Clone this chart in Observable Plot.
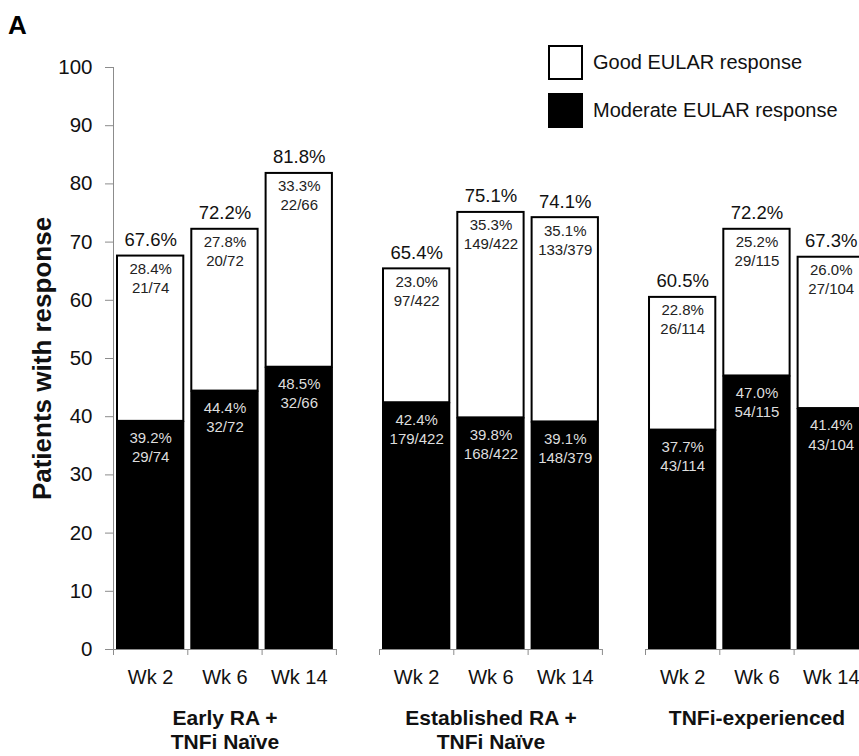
<!DOCTYPE html>
<html>
<head>
<meta charset="utf-8">
<script src="https://cdn.jsdelivr.net/npm/d3@7"></script>
<script src="https://cdn.jsdelivr.net/npm/@observablehq/plot@0.6"></script>
<style>
  body { margin: 0; background: #fff; font-family: "Liberation Sans", Arial, sans-serif; }
  #wrap { position: relative; width: 859px; height: 756px; overflow: hidden; background: #fff; }
  #chart { position: absolute; left: 0; top: 0; }
  #panel { position: absolute; left: 8px; top: 12px; font-size: 26px; font-weight: bold; line-height: 1; color: #000; }
  .sw { position: absolute; width: 31px; height: 31px; border: 2px solid #000; box-sizing: content-box; }
  .lt { position: absolute; font-size: 20px; line-height: 1; color: #111; white-space: nowrap; }
</style>
</head>
<body>
<div id="wrap">
  <div id="chart"></div>
  <div id="panel">A</div>
  <div class="sw" style="left:548px; top:45px; background:#fff;"></div>
  <div class="lt" id="leg0" style="left:593px; top:52px;"></div>
  <div class="sw" style="left:548px; top:93px; background:#000;"></div>
  <div class="lt" id="leg1" style="left:593px; top:100px;"></div>
</div>
<script>
// ---- data ----
const groups = ["Early RA +\nTNFi Naïve", "Established RA +\nTNFi Naïve", "TNFi-experienced"];
const weeks = ["Wk 2", "Wk 6", "Wk 14"];
const moderatePct = [[39.2, 44.4, 48.5], [42.4, 39.8, 39.1], [37.7, 47.0, 41.4]];
const moderateN = [["29/74", "32/72", "32/66"], ["179/422", "168/422", "148/379"], ["43/114", "54/115", "43/104"]];
const goodPct = [[28.4, 27.8, 33.3], [23.0, 35.3, 35.1], [22.8, 25.2, 26.0]];
const goodN = [["21/74", "20/72", "22/66"], ["97/422", "149/422", "133/379"], ["26/114", "29/115", "27/104"]];
const totalPct = [[67.6, 72.2, 81.8], [65.4, 75.1, 74.1], [60.5, 72.2, 67.3]];
const yTicks = [0, 10, 20, 30, 40, 50, 60, 70, 80, 90, 100];
const yLabel = "Patients with response";
const legendLabels = ["Good EULAR response", "Moderate EULAR response"];

document.getElementById("leg0").textContent = legendLabels[0];
document.getElementById("leg1").textContent = legendLabels[1];

// ---- layout helpers (category slots on a linear x scale) ----
const GROUP_GAP = 0.58;
const rows = [];
const groupRows = [];
const tickRows = [];
groups.forEach((g, gi) => {
  const start = gi * (weeks.length + GROUP_GAP);
  groupRows.push({label: g, xc: start + weeks.length / 2, x1: start, x2: start + weeks.length});
  for (let k = 0; k <= weeks.length; k++) tickRows.push({x: start + k});
  weeks.forEach((w, wi) => {
    const x1 = start + wi;
    rows.push({
      group: g, week: w, x1, x2: x1 + 1, xc: x1 + 0.5,
      moderate: moderatePct[gi][wi], moderateN: moderateN[gi][wi],
      good: goodPct[gi][wi], goodN: goodN[gi][wi],
      top: moderatePct[gi][wi] + goodPct[gi][wi],
      total: totalPct[gi][wi]
    });
  });
});

const gray = "#8c8c8c";
const chart = Plot.plot({
  width: 859,
  height: 756,
  marginLeft: 113,
  marginRight: 0,
  marginTop: 67,
  marginBottom: 107,
  style: {fontFamily: "'Liberation Sans', Arial, sans-serif", background: "transparent", color: "#111"},
  x: {type: "linear", domain: [0, 10.04], axis: null},
  y: {domain: [0, 100]},
  marks: [
    Plot.rect(rows, {x1: "x1", x2: "x2", y1: 0, y2: "moderate", fill: "#000", insetLeft: 3, insetRight: 3}),
    Plot.rect(rows, {x1: "x1", x2: "x2", y1: "moderate", y2: "top", fill: "#fff", stroke: "#000", strokeWidth: 2, insetLeft: 4, insetRight: 4}),
    Plot.ruleY(groupRows, {x1: "x1", x2: "x2", y: 0, stroke: gray}),
    Plot.ruleX(tickRows, {x: "x", y1: 0, y2: 0, insetBottom: -6, stroke: gray}),
    Plot.ruleX([0], {stroke: gray}),
    Plot.axisY(yTicks, {tickSize: 8, tickPadding: 13, fontSize: 20.5, stroke: gray, fill: "#111", label: null}),
    Plot.text(rows, {x: "xc", y: "top", text: d => d.total.toFixed(1) + "%", lineAnchor: "bottom", dy: -10, fontSize: 18.5, fill: "#111"}),
    Plot.text(rows, {x: "xc", y: "top", text: d => d.good.toFixed(1) + "%\n" + d.goodN, lineAnchor: "top", dy: 4.5, lineHeight: 1.27, fontSize: 15, fill: "#222"}),
    Plot.text(rows, {x: "xc", y: "moderate", text: d => d.moderate.toFixed(1) + "%\n" + d.moderateN, lineAnchor: "top", dy: 8.4, lineHeight: 1.27, fontSize: 15, fill: "#ddd"}),
    Plot.text(rows, {x: "xc", y: 0, text: "week", lineAnchor: "top", dy: 20, fontSize: 20, fill: "#111"}),
    Plot.text(groupRows, {x: "xc", y: 0, text: "label", lineAnchor: "top", dy: 59, lineHeight: 1.12, fontSize: 21, fontWeight: "bold", fill: "#111"}),
    Plot.text([yLabel], {text: d => d, frameAnchor: "left", textAnchor: "middle", rotate: -90, dx: -71, fontSize: 26, fontWeight: "bold", fill: "#111"})
  ]
});
document.getElementById("chart").appendChild(chart);
</script>
</body>
</html>
